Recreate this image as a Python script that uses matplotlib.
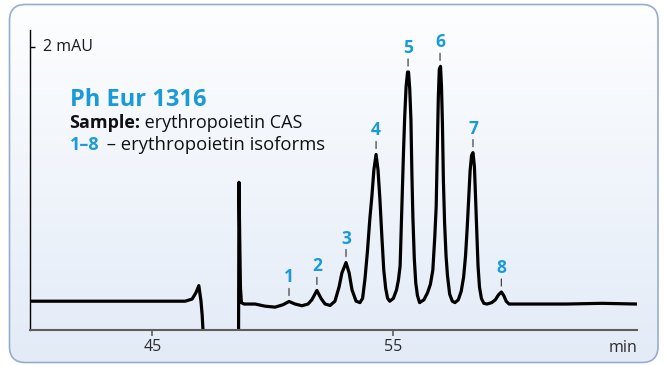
import numpy as np
import matplotlib
matplotlib.use("Agg")
import matplotlib.pyplot as plt
from matplotlib.colors import to_rgb
from matplotlib.patches import FancyBboxPatch

# ---- data ----
time_min = [
    39.91, 46.36, 46.65, 46.81, 46.93, 47.02, 47.07, 47.15,
    np.nan,
    48.58, 48.60, 48.63, 48.66, 48.70, 48.81, 49.27, 49.68, 50.10, 50.43,
    50.68, 50.93, 51.22, 51.47, 51.63, 51.84, 52.01, 52.18, 52.39, 52.59,
    52.76, 52.88, 53.05, 53.18, 53.30, 53.47, 53.63,
    53.74, 53.84, 53.94, 54.04, 54.13, 54.21, 54.30, 54.38, 54.46, 54.54,
    54.62, 54.70, 54.78, 54.87,
    55.02, 55.15, 55.23, 55.30, 55.37, 55.44, 55.49, 55.55, 55.61, 55.65,
    55.70, 55.75, 55.79, 55.83, 55.89, 55.95, 56.02, 56.11,
    56.29, 56.44, 56.56, 56.66, 56.74, 56.80, 56.85, 56.89, 56.93, 56.98,
    57.02, 57.06, 57.10, 57.15, 57.21, 57.27, 57.36, 57.47, 57.58,
    57.72, 57.84, 57.94, 58.02, 58.09, 58.15, 58.21, 58.27, 58.33, 58.39,
    58.44, 58.49, 58.54, 58.60, 58.68, 58.78, 58.91,
    59.11, 59.26, 59.39, 59.51, 59.61, 59.71, 59.83, 60.12, 62.20, 63.70, 65.15,
]
signal_mAU = [
    0.20, 0.20, 0.215, 0.26, 0.31, 0.20, 0.10, -0.15,
    np.nan,
    -0.15, 1.04, 0.65, 0.30, 0.19, 0.18, 0.18, 0.165, 0.158, 0.175,
    0.198, 0.18, 0.168, 0.18, 0.21, 0.276, 0.22, 0.18, 0.17, 0.20,
    0.30, 0.40, 0.473, 0.40, 0.28, 0.20, 0.19,
    0.22, 0.36, 0.55, 0.78, 0.95, 1.13, 1.237, 1.13, 0.92, 0.66,
    0.42, 0.29, 0.22, 0.20,
    0.22, 0.28, 0.35, 0.45, 0.85, 1.25, 1.50, 1.72, 1.82, 1.82,
    1.70, 1.48, 1.10, 0.80, 0.50, 0.33, 0.24, 0.19,
    0.21, 0.26, 0.32, 0.42, 0.65, 0.87, 1.30, 1.65, 1.84, 1.86,
    1.72, 1.45, 1.05, 0.75, 0.52, 0.38, 0.25, 0.20, 0.19,
    0.21, 0.27, 0.37, 0.52, 0.72, 0.92, 1.12, 1.23, 1.25, 1.15,
    0.92, 0.68, 0.45, 0.30, 0.22, 0.185, 0.18,
    0.19, 0.21, 0.245, 0.265, 0.24, 0.20, 0.18, 0.18, 0.18, 0.185, 0.18,
]

peak_labels = ["1", "2", "3", "4", "5", "6", "7", "8"]
peak_times = [50.68, 51.84, 53.05, 54.30, 55.63, 56.96, 58.33, 59.51]
peak_heights = [0.198, 0.276, 0.473, 1.237, 1.82, 1.86, 1.25, 0.265]

x_ticks = [45, 55]
x_tick_labels = ["45", "55"]
x_unit = "min"
scale_value = 2
scale_label = "2 mAU"

title = "Ph Eur 1316"
sample_key = "Sample:"
sample_text = " erythropoietin CAS"
iso_key = "1\u20138"
iso_text = " \u2013 erythropoietin isoforms"

# ---- style ----
plt.rcParams["font.family"] = ["Open Sans", "DejaVu Sans"]
BLUE = "#1b9ad8"
W, H = 665, 365

fig = plt.figure(figsize=(W / 100, H / 100), dpi=100)

# background panel with vertical gradient and rounded border
bg = fig.add_axes([0, 0, 1, 1], zorder=0)
bg.set_xlim(0, W)
bg.set_ylim(H, 0)
bg.axis("off")
top_c = np.array(to_rgb("#fdfeff"))
bot_c = np.array(to_rgb("#e3ebf7"))
g = np.linspace(0, 1, 256)[:, None, None]
img = top_c + (bot_c - top_c) * g
im = bg.imshow(img, extent=(9.5, 658, 362.5, 4.5), aspect="auto",
               interpolation="bilinear")
box = FancyBboxPatch((9.5, 4.5), 648.5, 358,
                     boxstyle="round,pad=0,rounding_size=16",
                     fc="none", ec="#98acd0", lw=1.2)
bg.add_patch(box)
im.set_clip_path(box)

# main axes
ax = fig.add_axes([30 / W, (H - 329.5) / H, 607 / W, 299.5 / H], zorder=1)
ax.patch.set_visible(False)
ax.set_xlim(39.91, 65.15)
ax.set_ylim(0, 2.117)

ax.plot(time_min, signal_mAU, color="black", lw=2.3,
        solid_joinstyle="round", solid_capstyle="round")

for s in ("top", "right"):
    ax.spines[s].set_visible(False)
ax.spines["left"].set_color("black")
ax.spines["left"].set_linewidth(1.0)
ax.spines["bottom"].set_color("#5e5e5e")
ax.spines["bottom"].set_linewidth(1.5)

ax.set_xticks(x_ticks)
ax.set_xticklabels(x_tick_labels)
ax.tick_params(axis="x", direction="out", length=4, width=1.2,
               color="#5e5e5e", labelsize=11.5, labelcolor="#2b2b2b", pad=3)
ax.set_yticks([scale_value])
ax.set_yticklabels([""])
ax.tick_params(axis="y", direction="in", length=3.5, width=1.0, color="black")

ax.annotate(scale_label, xy=(0, scale_value),
            xycoords=("axes fraction", "data"),
            xytext=(9.3, 0), textcoords="offset points",
            ha="left", va="center", fontsize=11.5, color="#1a1a1a")
ax.annotate(x_unit, xy=(1, 0), xycoords="axes fraction",
            xytext=(0, -16.5), textcoords="offset points",
            ha="right", va="baseline", fontsize=11.5, color="#2b2b2b")

# peak labels with small dashes
for lbl, t, h in zip(peak_labels, peak_times, peak_heights):
    ax.annotate("", xy=(t, h), xytext=(0, 9.4), textcoords="offset points",
                arrowprops=dict(arrowstyle="-", shrinkA=0, shrinkB=4.3,
                                color="#444444", lw=0.9))
    ax.annotate(lbl, xy=(t, h), xytext=(0, 13.7), textcoords="offset points",
                ha="center", va="baseline", fontsize=12.5,
                fontweight="bold", color=BLUE)

# text block
fig.text(69.5 / W, 1 - 105.5 / H, title, fontsize=17, fontweight="bold",
         color=BLUE, ha="left", va="baseline")
t1 = fig.text(69.5 / W, 1 - 127.5 / H, sample_key, fontsize=13,
              fontweight="bold", color="#111111", ha="left", va="baseline")
t3 = fig.text(69.5 / W, 1 - 149.5 / H, iso_key, fontsize=13,
              fontweight="bold", color=BLUE, ha="left", va="baseline")
fig.canvas.draw()
r = fig.canvas.get_renderer()
b1 = t1.get_window_extent(r)
b3 = t3.get_window_extent(r)
fig.text(b1.x1 / W, 1 - 127.5 / H, sample_text, fontsize=13,
         color="#111111", ha="left", va="baseline")
fig.text((b3.x1 + 3) / W, 1 - 149.5 / H, iso_text, fontsize=13.3,
         color="#111111", ha="left", va="baseline")

fig.savefig("out.png", dpi=100)
